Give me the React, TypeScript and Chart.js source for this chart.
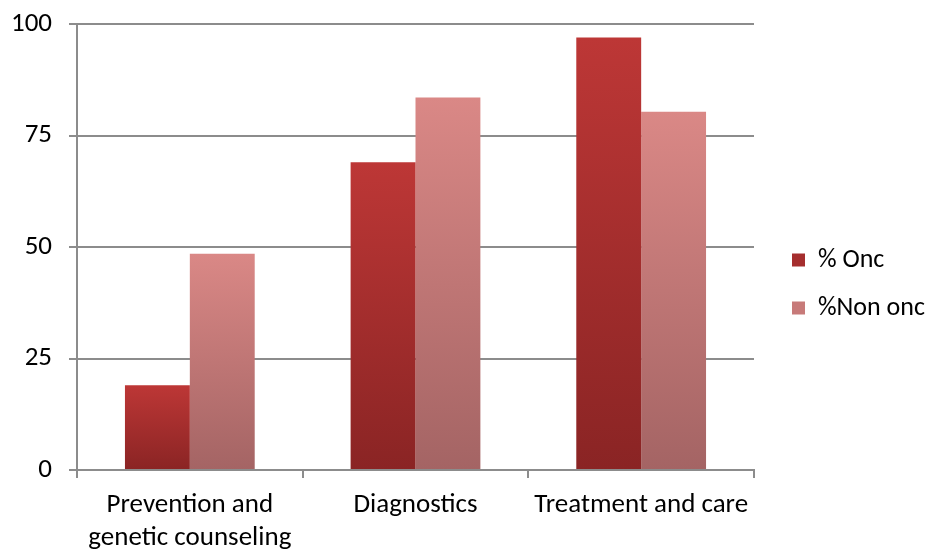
import React, { useEffect, useRef } from "react";
import { Chart, registerables } from "chart.js";

Chart.register(...registerables);

const categories: (string | string[])[] = [
  ["Prevention and", "genetic counseling"],
  "Diagnostics",
  "Treatment and care",
];
const oncValues = [19, 69, 97];
const nonOncValues = [48.5, 83.5, 80.3];
const yTicks = [0, 25, 50, 75, 100];

const FONT = "Carlito, Lato, 'Liberation Sans', sans-serif";
const FS = 27;
const LEGEND_FS = 26;
const LEGEND_WIDTH = 175;
const LEGEND_SHIFT_X = 16;
const LEGEND_SHIFT_Y = -3;

function gradientFor(top: string, bottom: string) {
  return (ctx: any) => {
    const chart = ctx.chart;
    if (!chart.chartArea || ctx.raw == null) return top;
    const y = chart.scales.y;
    const y1 = y.getPixelForValue(ctx.raw);
    const y0 = y.getPixelForValue(0);
    if (!isFinite(y1) || !isFinite(y0) || y0 === y1) return top;
    const g = chart.ctx.createLinearGradient(0, y1, 0, y0);
    g.addColorStop(0, top);
    g.addColorStop(1, bottom);
    return g;
  };
}

const legendLayoutPlugin = {
  id: "legendLayout",
  beforeLayout(chart: any) {
    const lg = chart.legend;
    if (lg && !lg._wrapped) {
      const orig = lg.fit.bind(lg);
      lg.fit = () => {
        orig();
        lg.width = LEGEND_WIDTH;
      };
      lg._wrapped = true;
    }
  },
  afterLayout(chart: any) {
    const lg = chart.legend;
    if (lg) {
      lg.left += LEGEND_SHIFT_X;
      lg.right += LEGEND_SHIFT_X;
      lg.top += LEGEND_SHIFT_Y;
      lg.bottom += LEGEND_SHIFT_Y;
    }
  },
};

export default function App() {
  const ref = useRef<HTMLCanvasElement>(null);
  useEffect(() => {
    document.body.style.margin = "0";
    const chart = new Chart(ref.current!, {
      type: "bar",
      plugins: [legendLayoutPlugin],
      data: {
        labels: categories,
        datasets: [
          {
            label: "% Onc",
            data: oncValues,
            backgroundColor: gradientFor("#BD3736", "#8A2424"),
            borderWidth: 0,
            categoryPercentage: 0.575,
            barPercentage: 1,
          },
          {
            label: "%Non onc",
            data: nonOncValues,
            backgroundColor: gradientFor("#DA8886", "#A46464"),
            borderWidth: 0,
            categoryPercentage: 0.575,
            barPercentage: 1,
          },
        ],
      },
      options: {
        animation: false,
        responsive: false,
        layout: { padding: { top: 24, right: 0, left: 0, bottom: 0 } },
        plugins: {
          tooltip: { enabled: false },
          legend: {
            position: "right",
            align: "center",
            labels: {
              boxWidth: 13,
              boxHeight: 13,
              padding: 22,
              color: "#000",
              font: { family: FONT, size: LEGEND_FS },
              generateLabels: (chart: any) =>
                chart.data.datasets.map((ds: any, i: number) => ({
                  text: ds.label,
                  fillStyle: i === 0 ? "#A52E2E" : "#C77A79",
                  strokeStyle: "transparent",
                  lineWidth: 0,
                  datasetIndex: i,
                })),
            },
          },
        },
        scales: {
          x: {
            grid: {
              display: true,
              drawOnChartArea: false,
              drawTicks: true,
              tickLength: 8,
              color: "#8c8c8c",
              lineWidth: 2,
              offset: true,
            },
            border: { display: true, color: "#8c8c8c", width: 2 },
            ticks: {
              color: "#000",
              font: { family: FONT, size: FS, lineHeight: 1.22 },
              padding: 11,
              maxRotation: 0,
            },
            afterFit: (s: any) => {
              s.height = 80;
              s.paddingTop = 0;
              s.paddingBottom = 0;
            },
          },
          y: {
            min: 0,
            max: 100,
            afterBuildTicks: (s: any) => {
              s.ticks = yTicks.map((v) => ({ value: v }));
            },
            grid: {
              color: "#8c8c8c",
              lineWidth: 2,
              tickLength: 8,
            },
            border: { display: true, color: "#8c8c8c", width: 2 },
            ticks: {
              color: "#000",
              font: { family: FONT, size: FS },
              padding: 17,
            },
            afterFit: (s: any) => {
              s.width = 77;
              s.paddingTop = 0;
              s.paddingBottom = 0;
            },
          },
        },
      },
    });
    return () => chart.destroy();
  }, []);
  return (
    <div style={{ width: 929, height: 550 }}>
      <canvas ref={ref} width={929} height={550} />
    </div>
  );
}
